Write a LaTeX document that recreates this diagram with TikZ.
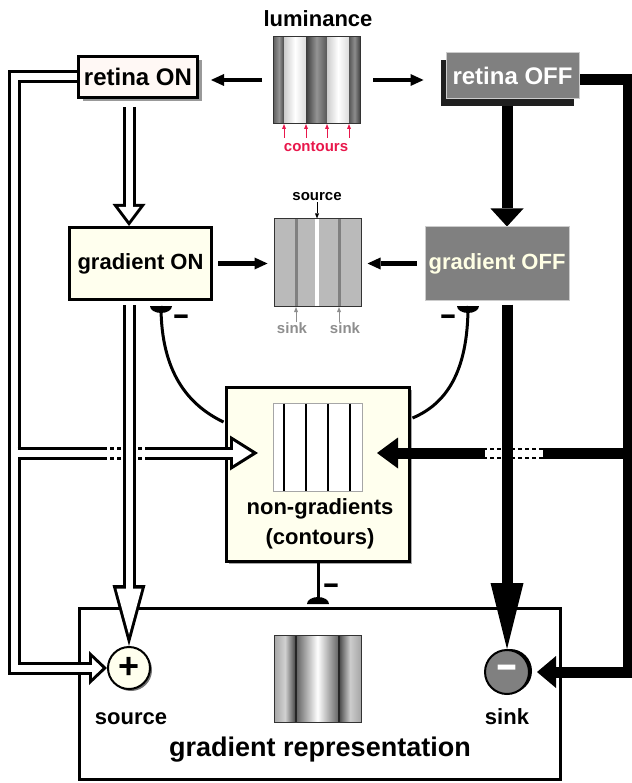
\documentclass[tikz,border=0pt]{standalone}
\usepackage{fontspec}
\setmainfont{Liberation Sans}
\usepackage{graphicx}
\usepackage{tikz}
\usetikzlibrary{arrows.meta,calc,shadows,backgrounds}
\definecolor{onpink}{HTML}{FFF8F5}
\definecolor{ivory}{HTML}{FFFFEE}
\definecolor{offgray}{HTML}{808080}
\definecolor{offtext}{HTML}{FFFFE4}
\definecolor{contred}{HTML}{E8174B}
\definecolor{sinkgray}{HTML}{8E8E8E}
\definecolor{midgray}{HTML}{BABABA}
\definecolor{stripegray}{HTML}{808080}
\tikzset{
  lbl/.style={font=\fontsize{#1}{#1}\selectfont\bfseries, inner sep=0pt},
  lbl/.default=22,
  signlbl/.style={font=\fontsize{#1}{#1}\selectfont\bfseries, inner sep=0pt},
  onbox/.style={rectangle, draw=black, line width=3pt, fill=#1,
    inner sep=0pt, lbl},
  onbox/.default=ivory,
  offbox/.style={rectangle, draw=black!20, line width=1pt, fill=offgray,
    text=#1, inner sep=0pt, lbl},
  offbox/.default=offtext,
  imgframe/.style={rectangle, draw=#1, line width=1pt,
    minimum width=87pt, minimum height=87pt, inner sep=0pt},
  imgframe/.default=black!80,
  onpipe/.style={draw=white, line width=7pt,
    preaction={draw=black, line width=13pt}},
  oncross/.style={draw=white, line width=7pt,
    preaction={draw=black, line width=13pt, dash pattern=on 4pt off 3pt}},
  onarrow/.style n args={5}{draw=white, line width=7pt, shorten >=#5,
    -{Triangle[length=#3, width=#4, line width=0pt]},
    preaction={draw=black, line width=13pt, shorten >=0pt,
      -{Triangle[length=#1, width=#2, line width=0pt]}}},
  offline/.style={draw=black, line width=11pt},
  offcross/.style={draw=white, line width=7pt,
    preaction={draw=black, line width=11pt, dash pattern=on 4pt off 3pt}},
  offarrow/.style 2 args={draw=black, line width=11pt,
    -{Triangle[length=#1, width=#2, line width=0pt]}},
  thinarrow/.style={draw=black, line width=4pt,
    -{Triangle[length=13pt, width=12pt, line width=0pt]}},
  annarrow/.style={draw=#1, line width=1pt,
    -{Triangle[length=5pt, width=4pt, line width=0pt]}},
  annarrow/.default=black,
  inhibline/.style={draw=black, line width=3pt},
  inhibcap/.pic={\fill[black] (-11,0) arc[start angle=180, end angle=360,
    x radius=11, y radius=7] -- cycle;},
}

\begin{document}
\begin{tikzpicture}[x=1pt, y=-1pt]
\useasboundingbox (0,0) rectangle (631,783);

% retina and gradient stages
\node[onbox=onpink, lbl=24, minimum width=119pt, minimum height=41pt,
  drop shadow={shadow xshift=4pt, shadow yshift=-4pt, fill=black!40, opacity=1}]
  (retinaon) at (138,77) {retina ON};
\node[offbox=white, lbl=24, minimum width=133pt, minimum height=46pt,
  drop shadow={shadow xshift=-5pt, shadow yshift=-7pt, fill=black!88, opacity=1}]
  (retinaoff) at (512.5,76) {retina OFF};
\node[onbox, minimum width=142pt, minimum height=72pt] (gradon) at (140.5,263.5) {gradient ON};
\node[offbox, minimum width=144pt, minimum height=73pt] (gradoff) at (497,263.5) {gradient OFF};

% source and sink
\node[circle, draw=black, line width=2pt, fill=ivory, minimum size=42pt, inner sep=0pt,
  signlbl=36, drop shadow={shadow xshift=2pt, shadow yshift=-2pt, fill=black!55, opacity=1}]
  (src) at (129,668) {+};
\node[circle, draw=black, line width=2pt, fill=offgray, text=white, minimum size=44pt,
  inner sep=0pt, signlbl=42,
  drop shadow={shadow xshift=3pt, shadow yshift=1pt, fill=black, opacity=1}]
  (sink) at (507,672) {\scalebox{1.65}[1]{-}};
\node[lbl] (srclabel) at (131,719) {source};
\node[lbl] (sinklabel) at (507,717) {sink};

% luminance input
\node[lbl] (lumlabel) at (318,19) {luminance};
\shade[left color=black!60, right color=black!72, middle color=black!42] (274,37) rectangle (284,123);
\shade[left color=black!20, right color=black!14, middle color=white] (284,37) rectangle (306,123);
\shade[left color=black!76, right color=black!66, middle color=black!42] (306,37) rectangle (327,123);
\shade[left color=black!20, right color=black!14, middle color=white] (327,37) rectangle (349,123);
\shade[left color=black!66, right color=black!74, middle color=black!45] (349,37) rectangle (360,123);
\node[imgframe] (lum) at (317,80) {};
\foreach \cx in {284,306,327,349}
  \draw[annarrow=contred] (\cx,138) -- (\cx,124);
\node[lbl=15, text=contred] (contlbl) at (316,147) {contours};

% gradient map
\node[imgframe, fill=midgray] (mid) at (317.5,262.5) {};
\foreach \sx in {296,339}
  \draw[stripegray, line width=3pt] (\sx,219.5) -- (\sx,305.5);
\draw[white, line width=4pt] (317,219.5) -- (317,305.5);
\node[lbl=15] (srcann) at (317,197) {source};
\draw[annarrow, shorten <=1pt] (srcann.south) -- (srcann.south |- mid.north);
\node[lbl=15, text=sinkgray] (sinkann1) at (292,328) {sink};
\node[lbl=15, text=sinkgray] (sinkann2) at (345,328) {sink};
\coordinate (sinkA) at (296,307);
\coordinate (sinkB) at (339,307);
\draw[annarrow=sinkgray] (sinkA |- sinkann1.north) -- (sinkA);
\draw[annarrow=sinkgray] (sinkB |- sinkann2.north) -- (sinkB);

% contour map
\node[imgframe=black!35, fill=white, minimum width=89pt, minimum height=88pt] (ngimg) at (317.5,447) {};
\foreach \lx in {284,306,328,350}
  \draw[line width=1.2pt] (\lx,403.5) -- (\lx,490.5);
\node[lbl, font=\fontsize{22}{30}\selectfont\bfseries, align=center] (nglabel) at (320,524)
  {non-gradients\\(contours)};

% filled-in output
\shade[left color=black!35, right color=black!75, middle color=black!18] (274,635) rectangle (296,722);
\shade[left color=black!62, right color=black!62, middle color=white] (296,635) rectangle (339,722);
\shade[left color=black!72, right color=black!35, middle color=black!20] (339,635) rectangle (361,722);
\foreach \lx in {296,339}
  \draw[black!85, line width=2pt] (\lx,635) -- (\lx,722);
\node[imgframe] (repimg) at (317.5,678.5) {};
\node[lbl=27] (replabel) at (320,750) {gradient representation};

% thin arrows
\draw[thinarrow, shorten <=11pt, shorten >=12pt] (lum.west) -- (lum.west -| retinaon.east);
\draw[thinarrow, shorten <=12pt, shorten >=22pt] (lum.east) -- (lum.east -| retinaoff.west);
\draw[thinarrow, shorten <=5pt, shorten >=6pt] (gradon.east) -- (gradon.east -| mid.west);
\draw[thinarrow, shorten <=8pt, shorten >=6pt] (gradoff.west) -- (gradoff.west -| mid.east);

\begin{scope}[on background layer]
\node[rectangle, draw=black, line width=3pt, fill=white, minimum width=481pt,
  minimum height=171pt] (rep) at (320,694) {};
\node[onbox, minimum width=183pt, minimum height=174pt,
  drop shadow={shadow xshift=2pt, shadow yshift=-2pt, fill=black!35, opacity=1}]
  (ng) at (318,474.5) {};

% inhibition
\coordinate (capon) at (161,306);
\coordinate (capoff) at (468,306);
\coordinate (caprep) at (318,604);
\draw[inhibline] ($(ng.north west)+(-1.5,36)$) .. controls (188,405) and (161,372) .. (capon);
\draw[inhibline] ($(ng.north east)+(1.5,32)$) .. controls (446,404) and (468,372) .. (capoff);
\draw[inhibline] (ng.south) -- (caprep);
\pic[rotate=180] at (capon) {inhibcap};
\pic[rotate=180] at (capoff) {inhibcap};
\pic at (caprep) {inhibcap};
\node[signlbl=30] (minon) at (181,320) {\scalebox{1.75}[1]{-}};
\node[signlbl=30] (minoff) at (448,320) {\scalebox{1.75}[1]{-}};
\node[signlbl=30] (minrep) at (331,589) {\scalebox{1.75}[1]{-}};

% ON pathway
\coordinate (onleft) at (14,77);
\draw[onarrow={18pt}{34pt}{10.5pt}{20pt}{4.5pt}] (retinaon.west) -- (onleft) |- (src.west);
\coordinate (onT) at (17.5,453);
\coordinate (onX1) at (103,453);
\coordinate (onX2) at (148,453);
\coordinate (ngL) at (258,453);
\draw[onpipe] (onT) -- (onX1);
\draw[oncross] (onX1) -- (onX2);
\draw[onarrow={28pt}{35pt}{19pt}{24pt}{6pt}] (onX2) -- (ngL);
\draw[onarrow={22pt}{33pt}{14pt}{21pt}{5pt}] ($(retinaon.south)+(-9,8)$) -- ($(gradon.north)+(-11.5,0)$);
\draw[onarrow={61pt}{33pt}{46pt}{25pt}{11.5pt}] ($(gradon.south)+(-11.5,4)$) -- (src.north);

% OFF pathway
\coordinate (offright) at (628,80);
\draw[offarrow={19pt}{32pt}] ($(retinaoff.east)+(0,4)$) -- (offright) |- ($(sink.east)+(7,0)$);
\coordinate (offT) at (628,453);
\coordinate (offX1) at (543,453);
\coordinate (offX2) at (485,453);
\coordinate (ngR) at (377,453);
\draw[offline] (offT) -- (offX1);
\draw[offcross] (offX1) -- (offX2);
\draw[offarrow={21pt}{31pt}] (offX2) -- (ngR);
\draw[offarrow={18pt}{33pt}] ($(retinaoff.south)+(-5.5,0)$) -- ($(gradoff.north)+(10,0)$);
\draw[offarrow={66pt}{33pt}] ($(gradoff.south)+(10,4)$) -- (sink.north);
\end{scope}
\end{tikzpicture}
\end{document}
